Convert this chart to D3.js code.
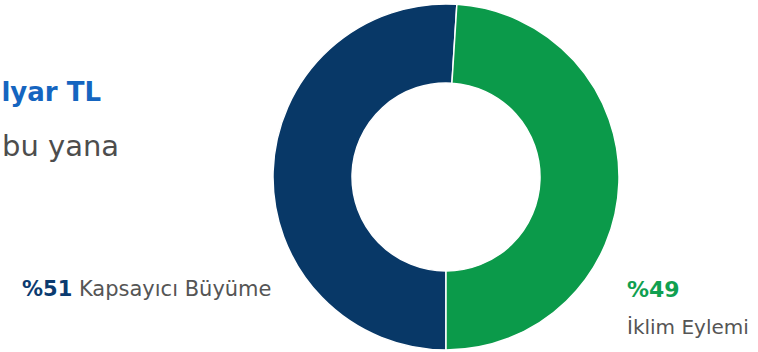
<!DOCTYPE html>
<html>
<head>
<meta charset="utf-8">
<script src="https://cdn.jsdelivr.net/npm/d3@7"></script>
<style>
  html, body { margin: 0; padding: 0; background: #fff; }
  svg { display: block; font-family: "DejaVu Sans", sans-serif; }
</style>
</head>
<body>
<div id="chart"></div>
<script>
var width = 758;
var height = 352;

// data
var categories = ["Kapsayıcı Büyüme", "İklim Eylemi"];
var shares = [51, 49];
var colors = ["#083867", "#0b9a4a"];
var labelColors = ["#0b3b70", "#10a050"];

var svg = d3.select("#chart").append("svg")
    .attr("width", width)
    .attr("height", height);

// header text, cut at the left edge like the source
svg.append("text")
    .attr("x", 101)
    .attr("y", 101)
    .attr("text-anchor", "end")
    .attr("fill", "#1565c0")
    .attr("font-size", 26)
    .attr("font-weight", 700)
    .text("Milyar TL");

svg.append("text")
    .attr("x", 2)
    .attr("y", 156)
    .attr("fill", "#4d4d4d")
    .attr("font-size", 29)
    .text("bu yana");

var cx = 446, cy = 177;
var outerR = 173, innerR = 94;

var pie = d3.pie()
    .sort(null)
    .startAngle(Math.PI)
    .endAngle(3 * Math.PI);

var arc = d3.arc()
    .innerRadius(innerR)
    .outerRadius(outerR);

var g = svg.append("g")
    .attr("transform", "translate(" + cx + "," + cy + ")");

g.selectAll("path")
    .data(pie(shares))
    .enter().append("path")
      .attr("d", arc)
      .attr("fill", function(d, i) { return colors[i]; })
      .attr("stroke", "#fff")
      .attr("stroke-width", 1.5);

// left label
var t1 = svg.append("text")
    .attr("x", 22)
    .attr("y", 296)
    .attr("font-size", 21);
t1.append("tspan")
    .attr("fill", labelColors[0])
    .attr("font-weight", 700)
    .text("%" + shares[0]);
t1.append("tspan")
    .attr("fill", "#555")
    .text(" " + categories[0]);

// right label
svg.append("text")
    .attr("x", 627)
    .attr("y", 297)
    .attr("font-size", 22)
    .attr("font-weight", 700)
    .attr("fill", labelColors[1])
    .text("%" + shares[1]);

svg.append("text")
    .attr("x", 627)
    .attr("y", 334)
    .attr("font-size", 20)
    .attr("fill", "#555")
    .text(categories[1]);
</script>
</body>
</html>
